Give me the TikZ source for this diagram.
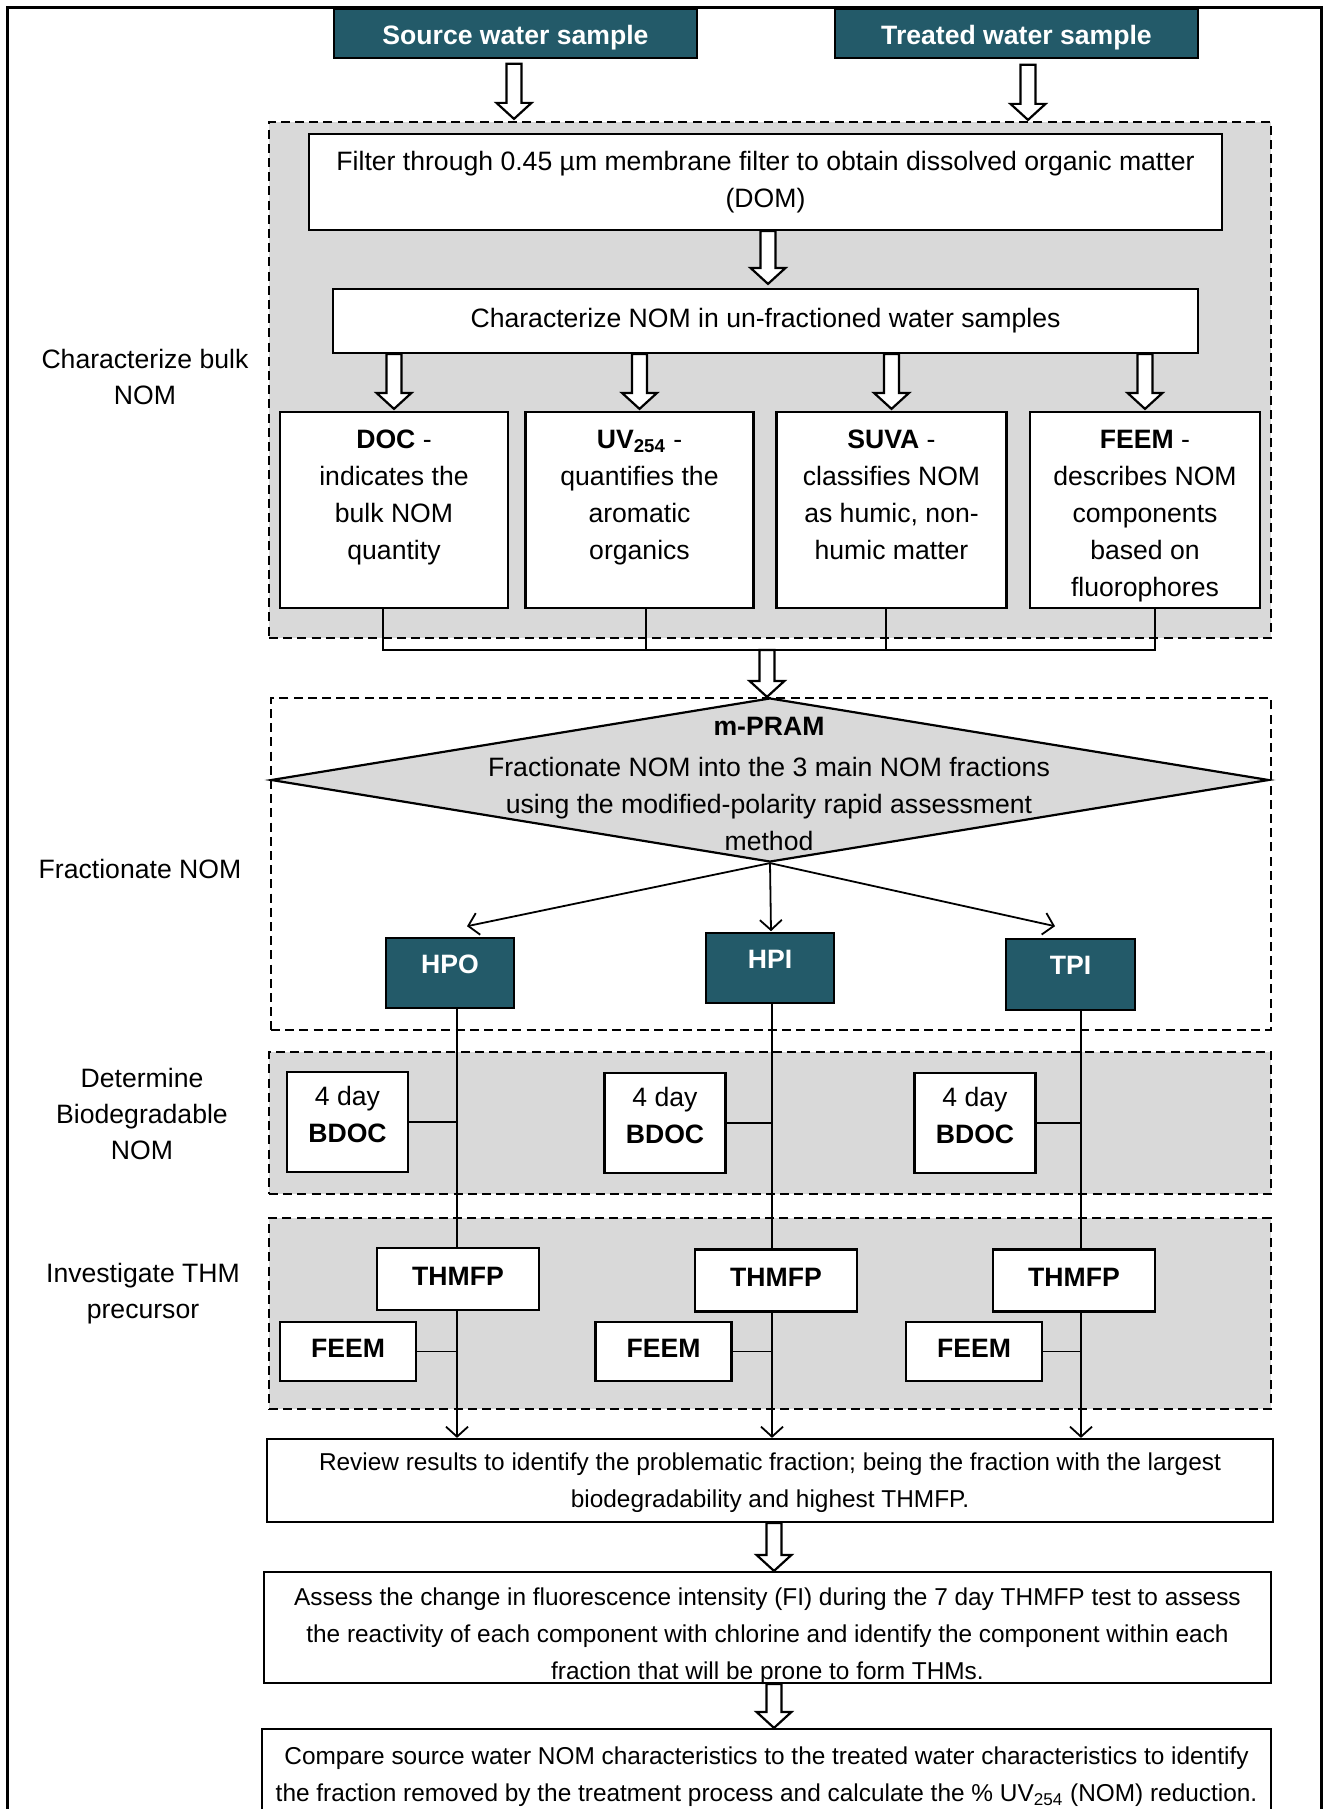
\documentclass[tikz,border=0pt]{standalone}
\usepackage{fontspec}
\setmainfont{Liberation Sans}
\usetikzlibrary{shapes.geometric,arrows.meta,calc}
\definecolor{fracteal}{HTML}{235A69}
\definecolor{panelgray}{HTML}{D9D9D9}
% text block whose first baseline sits at a fixed depth below the top edge
\newcommand\topalignbox[4]{\parbox[t][#1][t]{#2}{\centering\rule{0pt}{#3}#4}}
% wide white block arrow from #1 straight down to the tip #2
\newcommand\hollowarrow[2]{%
  \draw[blockarrow] ($(#1)+(-7.5,0)$) -- ($(#2)+(-7.5,-16)$) -- ($(#2)+(-17.5,-16)$)
    -- (#2) -- ($(#2)+(17.5,-16)$) -- ($(#2)+(7.5,-16)$) -- ($(#1)+(7.5,0)$) -- cycle;}

\begin{document}
\begin{tikzpicture}[x=0.5pt,y=-0.5pt,
  every node/.style={font=\fontsize{13.3}{18.5}\selectfont},
  base/.style={draw, line width=1.1pt, fill=white, inner sep=0pt},
  box/.style={base, align=center},
  darkbox/.style={draw=black, line width=0.8pt, fill=fracteal, text=white, inner sep=0pt,
    font=\fontsize{13.3}{18.5}\selectfont\bfseries},
  panel/.style={draw, line width=1.1pt, dash pattern=on 4.5pt off 2.6pt, fill=panelgray, inner sep=0pt},
  openpanel/.style={panel, fill=none},
  small/.style={font=\fontsize{12.2}{18.5}\selectfont},
  conn/.style={line width=0.9pt},
  tip/.style={conn, -{Straight Barb[length=5pt,width=11pt]}},
  blockarrow/.style={draw, line width=1.1pt, fill=white, line join=miter},
  sidelabel/.style={align=center, font=\fontsize{13.3}{18}\selectfont}]

\clip (0,0) rectangle (1324,1809);
\fill[white] (0,0) rectangle (1324,1809);
\draw[line width=1.5pt] (7,1830) -- (7,8) -- (1321,8) -- (1321,1830);

% ---------- stage labels ----------
\node[sidelabel] (labA) at (145,376.5) {Characterize bulk\\NOM};
\node[sidelabel] (labB) at (140,869) {Fractionate NOM};
\node[sidelabel] (labC) at (142,1114) {Determine\\Biodegradable\\NOM};
\node[sidelabel] (labD) at (143,1293.5) {Investigate THM\\precursor};

% ---------- samples ----------
\node[darkbox, minimum width=181.5pt, minimum height=24.5pt, text height=11.5pt, text depth=0pt] (src) at (515.5,33.5) {Source water sample};
\node[darkbox, minimum width=181.5pt, minimum height=24.5pt, text height=11.5pt, text depth=0pt] (trt) at (1016.5,33.5) {Treated water sample};

% ---------- bulk characterisation ----------
\node[panel, minimum width=501pt, minimum height=258pt] (grA) at (770,380) {};
\node[box, minimum width=456.5pt, minimum height=48pt] (filter) at (765.5,182)
  {Filter through 0.45 µm membrane filter to obtain dissolved organic matter\\(DOM)};
\node[box, minimum width=432.5pt, minimum height=32pt] (char) at (765.5,321)
  {Characterize NOM in un-fractioned water samples};
\node[base, minimum width=114pt, minimum height=98pt] (doc) at (394,510)
  {\topalignbox{98pt}{110pt}{18.3pt}{\textbf{DOC} -\\indicates the\\bulk NOM\\quantity}};
\node[base, minimum width=114pt, minimum height=98pt] (uv) at (639.5,510)
  {\topalignbox{98pt}{110pt}{18.3pt}{\textbf{UV\textsubscript{254}} -\\quantifies the\\aromatic\\organics}};
\node[base, minimum width=115pt, minimum height=98pt] (suva) at (891.5,510)
  {\topalignbox{98pt}{111pt}{18.3pt}{\textbf{SUVA} -\\classifies NOM\\as humic, non-\\humic matter}};
\node[base, minimum width=115pt, minimum height=98pt] (feem) at (1145,510)
  {\topalignbox{98pt}{111pt}{18.3pt}{\textbf{FEEM} -\\describes NOM\\components\\based on\\fluorophores}};

% ---------- fractionation ----------
\node[openpanel, minimum width=500pt, minimum height=166pt] (grB) at (771,864) {};
\node[diamond, draw, line width=1.1pt, fill=panelgray, inner sep=0pt,
      minimum width=499pt, minimum height=82pt] (pram) at (770,780) {};
\node[align=center] (pramtext) at (769,783.5)
  {\textbf{m-PRAM}\\[2pt]Fractionate NOM into the 3 main NOM fractions\\using the modified-polarity rapid assessment\\method};
\node[darkbox, minimum width=64pt, minimum height=35pt, text height=5pt, text depth=5pt] (hpo) at (450,973) {HPO};
\node[darkbox, minimum width=64pt, minimum height=35pt, text height=5pt, text depth=5pt] (hpi) at (770,968) {HPI};
\node[darkbox, minimum width=64.5pt, minimum height=35.5pt, text height=5pt, text depth=5pt] (tpi) at (1070.5,974.5) {TPI};

% ---------- biodegradability ----------
\node[panel, minimum width=501pt, minimum height=71pt] (grC) at (770,1123) {};
\node[box, minimum width=60.5pt, minimum height=50pt, text depth=8pt] (bd1) at (347.5,1122) {4 day\\\textbf{BDOC}};
\node[box, minimum width=60.5pt, minimum height=50pt, text depth=8pt] (bd2) at (665,1123) {4 day\\\textbf{BDOC}};
\node[box, minimum width=60.5pt, minimum height=50pt, text depth=8pt] (bd3) at (975,1123) {4 day\\\textbf{BDOC}};

% ---------- THM precursors ----------
\node[panel, minimum width=501pt, minimum height=95.5pt] (grD) at (770,1313.5) {};
\node[box, minimum width=81pt, minimum height=31pt, text depth=3pt] (th1) at (458,1279) {\textbf{THMFP}};
\node[box, minimum width=81pt, minimum height=31pt, text depth=3pt] (th2) at (776,1280.5) {\textbf{THMFP}};
\node[box, minimum width=81pt, minimum height=31pt, text depth=3pt] (th3) at (1074,1280.5) {\textbf{THMFP}};
\node[box, minimum width=68pt, minimum height=29.5pt, text depth=3pt] (fe1) at (348,1351.5) {\textbf{FEEM}};
\node[box, minimum width=68pt, minimum height=29.5pt, text depth=3pt] (fe2) at (663.5,1351.5) {\textbf{FEEM}};
\node[box, minimum width=68pt, minimum height=29.5pt, text depth=3pt] (fe3) at (974,1351.5) {\textbf{FEEM}};

% ---------- synthesis ----------
\node[base, small, minimum width=503pt, minimum height=41.5pt] (rev) at (770,1480.5)
  {\topalignbox{41.5pt}{499pt}{15.9pt}{Review results to identify the problematic fraction; being the fraction with the largest\\biodegradability and highest THMFP.}};
\node[base, small, minimum width=503.5pt, minimum height=55.5pt] (assess) at (767.5,1627.5)
  {\topalignbox{55.5pt}{500pt}{16.9pt}{Assess the change in fluorescence intensity (FI) during the 7 day THMFP test to assess\\the reactivity of each component with chlorine and identify the component within each\\fraction that will be prone to form THMs.}};
\node[base, small, minimum width=504.5pt, minimum height=50.5pt] (comp) at (766.5,1779.5)
  {\topalignbox{50.5pt}{500pt}{17.9pt}{Compare source water NOM characteristics to the treated water characteristics to identify\\the fraction removed by the treatment process and calculate the \% UV\textsubscript{254} (NOM) reduction.}};

% ---------- block arrows ----------
\coordinate (s1) at ($(src.south)+(-1.5,5)$);
\coordinate (e1) at ($(s1 |- grA.north)+(0,-2)$);
\hollowarrow{s1}{e1}
\coordinate (s2) at ($(trt.south)+(11.5,6)$);
\coordinate (e2) at ($(s2 |- grA.north)+(0,-1)$);
\hollowarrow{s2}{e2}
\coordinate (s3) at ($(filter.south)+(2.5,0)$);
\coordinate (e3) at ($(s3 |- char.north)+(0,-4)$);
\hollowarrow{s3}{e3}
\foreach \b in {doc,uv,suva,feem}{
  \coordinate (s\b) at (\b.north |- char.south);
  \coordinate (e\b) at ($(\b.north)+(0,-2)$);
  \hollowarrow{s\b}{e\b}
}

% ---------- collector bar into the fractionation step ----------
\coordinate (bar) at (767,650);
\draw[conn] ($(doc.south)+(-11,0)$) |- (bar);
\draw[conn] ($(uv.south)+(6.5,0)$) |- (bar);
\draw[conn] ($(suva.south)+(-5.5,0)$) |- (bar);
\draw[conn] ($(feem.south)+(10,0)$) |- (bar);
\coordinate (e5) at (bar |- pram.north);
\hollowarrow{bar}{e5}

% ---------- fraction arrows ----------
\coordinate (hpoT) at ($(hpo.north)+(17,-11)$);
\coordinate (hpiT) at ($(hpi.north)+(1,-1)$);
\coordinate (tpiT) at ($(tpi.north)+(-15.5,-12)$);
\draw[tip] (pram.south) -- (hpoT);
\draw[tip] (pram.south) -- (hpiT);
\draw[tip] (pram.south) -- (tpiT);

% ---------- fraction lines through the tests ----------
\coordinate (h1) at ($(hpo.south)+(7,0)$);
\coordinate (h2) at ($(hpi.south)+(2,0)$);
\coordinate (h3) at ($(tpi.south)+(10.5,0)$);
\foreach \i in {1,2,3}{
  \draw[conn] (h\i) -- (h\i |- th\i.north);
  \draw[tip] (h\i |- th\i.south) -- (h\i |- rev.north);
  \draw[conn] (bd\i.east) -- (bd\i.east -| h\i);
  \draw[conn] (fe\i.east) -- (fe\i.east -| h\i);
}

% ---------- final steps ----------
\coordinate (s6) at ($(rev.south)+(4,0)$);
\coordinate (e6) at (s6 |- assess.north);
\hollowarrow{s6}{e6}
\coordinate (s7) at ($(assess.south)+(6.5,0)$);
\coordinate (e7) at (s7 |- comp.north);
\hollowarrow{s7}{e7}

\end{tikzpicture}
\end{document}
